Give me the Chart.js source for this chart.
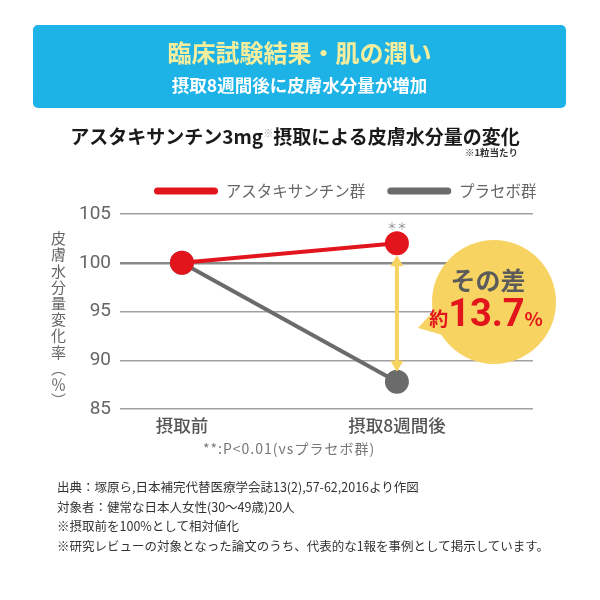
<!DOCTYPE html>
<html lang="ja">
<head>
<meta charset="utf-8">
<script src="https://cdn.jsdelivr.net/npm/chart.js@4.4.1/dist/chart.umd.min.js"></script>
<style>
  html, body { margin: 0; padding: 0; background: #fff; }
  body { width: 600px; height: 600px; position: relative; overflow: hidden;
         font-family: 'Noto Sans CJK JP', 'Noto Sans', sans-serif; }
  #wrap { position: absolute; left: 0; top: 0; width: 600px; height: 600px; }
  .abs { position: absolute; white-space: nowrap; }
  .banner { left: 33px; top: 25px; width: 533px; height: 83px; background: #1db3e7; border-radius: 5px; }
  .banner .t1 { position: absolute; left: 0; width: 100%; top: 12px; line-height: 30px; text-align: center;
                font-size: 24px; font-weight: bold; color: #f6ee9c; }
  .banner .t2 { position: absolute; left: 0; width: 100%; top: 47px; line-height: 26px; text-align: center;
                font-size: 17.5px; font-weight: bold; color: #fff; }
  .title { left: -5px; width: 600px; top: 119px; line-height: 28px; text-align: center;
           font-size: 19px; font-weight: bold; color: #1a1a1a; }
  .title sup { font-size: 10px; color: #aaa; font-weight: normal; vertical-align: 7px; }
  .perpill { right: 82px; top: 146px; line-height: 12px; font-size: 9.5px; font-weight: bold; color: #333; }
  .ytitle { left: 50px; top: 231px; writing-mode: vertical-rl; font-size: 15px; line-height: 16px;
            letter-spacing: 1.2px; color: #666; }
  .pnote { left: 203px; top: 438px; line-height: 20px; font-size: 14px; letter-spacing: 1px; color: #777; }
  .foot { left: 57px; top: 477px; font-size: 12.5px; line-height: 19.5px; color: #333; }
</style>
</head>
<body>
<div id="wrap"><canvas id="chart"></canvas></div>

<div class="abs banner">
  <div class="t1">臨床試験結果・肌の潤い</div>
  <div class="t2">摂取8週間後に皮膚水分量が増加</div>
</div>
<div class="abs title">アスタキサンチン3mg<sup>※</sup>摂取による皮膚水分量の変化</div>
<div class="abs perpill">※1粒当たり</div>
<div class="abs ytitle">皮膚水分量変化率（％）</div>
<div class="abs pnote">**:P&lt;0.01(vsプラセボ群)</div>
<div class="abs foot">
  出典：塚原ら,日本補完代替医療学会誌13(2),57-62,2016より作図<br>
  対象者：健常な日本人女性(30〜49歳)20人<br>
  ※摂取前を100%として相対値化<br>
  ※研究レビューの対象となった論文のうち、代表的な1報を事例として掲示しています。
</div>

<script>
// data
const CATEGORIES = ['摂取前', '摂取8週間後'];
const SERIES_NAMES = ['アスタキサンチン群', 'プラセボ群'];
const ASTA = [100, 102.0];
const PLACEBO = [100, 87.8];
const Y_TICKS = [85, 90, 95, 100, 105];
const SIG_MARK = '＊＊';
const DIFF_HEAD = 'その差';
const DIFF_PREFIX = '約';
const DIFF_VALUE = '13.7';
const DIFF_UNIT = '%';

const RED = '#e3151c';
const GRAY = '#6b6b6b';
const YELLOW = '#f7d462';
const JP = "'Noto Sans CJK JP', 'Noto Sans', sans-serif";

Chart.defaults.font.family = JP;

function points(values) {
  return values.map((v, i) => ({ x: i, y: v }));
}

function makeDataset(label, values, color) {
  return {
    label,
    data: points(values),
    borderColor: color,
    backgroundColor: color,
    pointBackgroundColor: color,
    pointBorderColor: color,
    borderWidth: 4,
    pointRadius: 10,
    pointHoverRadius: 10,
    tension: 0,
  };
}

// legend placement + arrow, significance mark and the "その差" bubble
const annotate = {
  id: 'annotate',
  afterLayout(chart) {
    const lg = chart.legend;
    const pad = lg.options.labels.padding;
    const fs = lg.options.labels.font.size;
    lg.left = 154 - pad;
    lg.right = 600;
    lg.top = 191 - pad - fs / 2;
  },
  afterDatasetsDraw(chart) {
    const { ctx, chartArea: ca, scales: { x, y } } = chart;
    const ax = x.getPixelForValue(1);
    const pa = y.getPixelForValue(ASTA[1]);
    const pb = y.getPixelForValue(PLACEBO[1]);
    const yTop = pa + 12, yBot = pb - 10;

    ctx.save();
    ctx.fillStyle = YELLOW;
    ctx.strokeStyle = YELLOW;
    ctx.lineWidth = 4;
    ctx.beginPath(); ctx.moveTo(ax, yTop + 8); ctx.lineTo(ax, yBot - 8); ctx.stroke();
    ctx.beginPath(); ctx.moveTo(ax, yTop); ctx.lineTo(ax - 6.5, yTop + 11); ctx.lineTo(ax + 6.5, yTop + 11); ctx.closePath(); ctx.fill();
    ctx.beginPath(); ctx.moveTo(ax, yBot); ctx.lineTo(ax - 6.5, yBot - 11); ctx.lineTo(ax + 6.5, yBot - 11); ctx.closePath(); ctx.fill();

    ctx.fillStyle = '#888';
    ctx.font = '10px ' + JP;
    ctx.textAlign = 'center';
    ctx.textBaseline = 'middle';
    ctx.fillText(SIG_MARK, ax, pa - 17);

    // bubble
    const cx = ca.right - 39, cy = ca.top + 88, r = 62;
    ctx.fillStyle = YELLOW;
    ctx.beginPath(); ctx.arc(cx, cy, r, 0, Math.PI * 2); ctx.fill();
    ctx.beginPath();
    ctx.moveTo(cx - 76, cy + 26);
    ctx.lineTo(cx - 56, cy + 4);
    ctx.lineTo(cx - 48, cy + 34);
    ctx.closePath(); ctx.fill();

    ctx.fillStyle = '#5b5b5b';
    ctx.font = 'bold 25px ' + JP;
    ctx.textBaseline = 'middle';
    ctx.fillText(DIFF_HEAD, cx - 6, cy - 22);

    const fSmall = 'bold 19px ' + JP;
    const fBig = 'bold 38px Roboto, ' + JP;
    ctx.font = fSmall; const w1 = ctx.measureText(DIFF_PREFIX).width; const w3 = ctx.measureText(DIFF_UNIT).width;
    ctx.font = fBig; const w2 = ctx.measureText(DIFF_VALUE).width;
    let sx = cx - 8 - (w1 + w2 + w3) / 2;
    const base = cy + 24;
    ctx.fillStyle = RED;
    ctx.textAlign = 'left';
    ctx.textBaseline = 'alphabetic';
    ctx.font = fSmall; ctx.fillText(DIFF_PREFIX, sx, base); sx += w1;
    ctx.font = fBig; ctx.fillText(DIFF_VALUE, sx, base); sx += w2;
    ctx.font = fSmall; ctx.fillText(DIFF_UNIT, sx, base);
    ctx.restore();
  },
};

new Chart(document.getElementById('chart'), {
  type: 'line',
  data: {
    datasets: [
      makeDataset(SERIES_NAMES[0], ASTA, RED),
      makeDataset(SERIES_NAMES[1], PLACEBO, GRAY),
    ],
  },
  options: {
    responsive: true,
    maintainAspectRatio: false,
    animation: false,
    layout: { padding: { left: 0, right: 67, top: 166.5, bottom: 151 } },
    plugins: {
      tooltip: { enabled: false },
      legend: {
        position: 'top',
        align: 'start',
        labels: {
          font: { size: 15.5, family: JP },
          color: '#666',
          boxWidth: 64,
          boxHeight: 7,
          padding: 22,
          useBorderRadius: true,
          borderRadius: 3.5,
          generateLabels: chart =>
            Chart.defaults.plugins.legend.labels.generateLabels(chart).map(l => ({ ...l, lineWidth: 0 })),
        },
      },
    },
    scales: {
      x: {
        type: 'linear',
        min: -0.288,
        max: 1.633,
        afterBuildTicks: s => { s.ticks = CATEGORIES.map((_, i) => ({ value: i })); },
        afterFit: s => { s.height = 40; },
        ticks: {
          callback: v => CATEGORIES[v],
          font: { size: 17.5, weight: 500, family: JP },
          color: '#555',
          padding: 6,
          maxRotation: 0,
        },
        grid: { display: false, drawTicks: false },
        border: { display: false },
      },
      y: {
        min: 85,
        max: 105,
        afterBuildTicks: s => { s.ticks = Y_TICKS.map(v => ({ value: v })); },
        afterFit: s => { s.width = 120; },
        ticks: {
          font: { size: 19, family: 'Roboto, ' + JP },
          color: '#666',
          padding: 9,
        },
        grid: {
          drawTicks: false,
          color: c => (c.tick && c.tick.value === 100 ? '#8a8a8a' : '#a0a0a0'),
          lineWidth: c => (c.tick && c.tick.value === 100 ? 2.5 : 1.5),
        },
        border: { display: false },
      },
    },
  },
  plugins: [annotate],
});
</script>
</body>
</html>
